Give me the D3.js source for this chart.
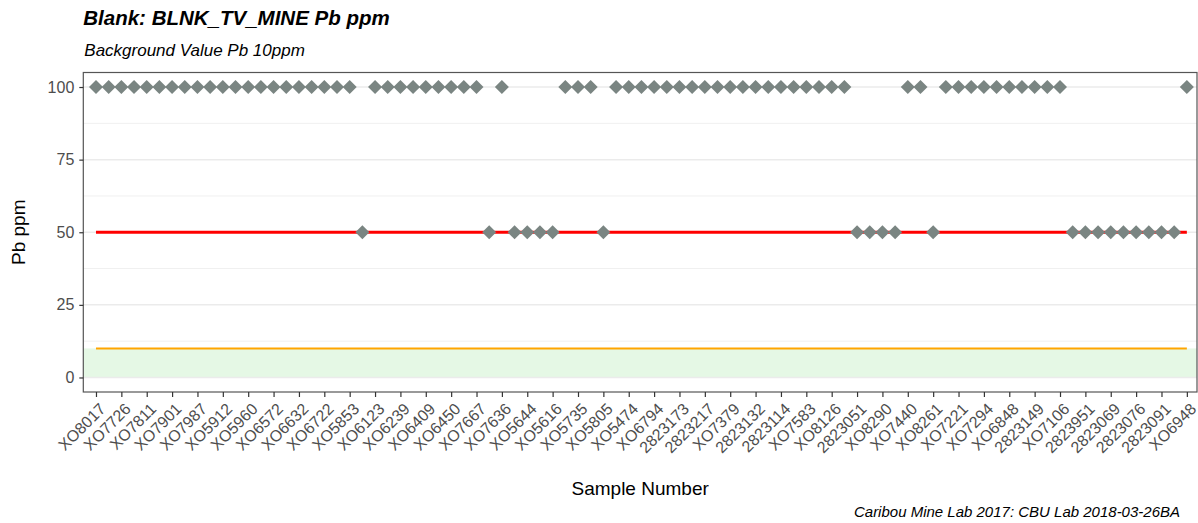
<!DOCTYPE html>
<html>
<head>
  <title>Blank: BLNK_TV_MINE Pb ppm</title>
  <script src="https://d3js.org/d3.v7.min.js"></script>
  <style>
    body { margin: 0; background: #fff; }
    text { font-family: 'Liberation Sans', Arial, sans-serif; }
  </style>
</head>
<body>
  <script>

    // Pb value of each blank, in run order (87 samples)
    var pbValues = [
      100,100,100,100,100,100,100,100,100,100,100,100,100,100,100,100,100,100,100,100,100,
      50,
      100,100,100,100,100,100,100,100,100,
      50,
      100,
      50,50,50,50,
      100,100,100,
      50,
      100,100,100,100,100,100,100,100,100,100,100,100,100,100,100,100,100,100,100,
      50,50,50,50,
      100,100,
      50,
      100,100,100,100,100,100,100,100,100,100,
      50,50,50,50,50,50,50,50,50,
      100
    ];

    // sample numbers shown on the axis (every second sample)
    var tickLabels = ['XO8017','XO7726','XO7811','XO7901','XO7987','XO5912','XO5960','XO6572',
      'XO6632','XO6722','XO5853','XO6123','XO6239','XO6409','XO6450','XO7667','XO7636','XO5644',
      'XO5616','XO5735','XO5805','XO5474','XO6794','2823173','2823217','XO7379','2823132','2823114',
      'XO7583','XO8126','2823051','XO8290','XO7440','XO8261','XO7221','XO7294','XO6848','2823149',
      'XO7106','2823951','2823069','2823076','2823091','XO6948'];

    var yTicks = [0, 25, 50, 75, 100];
    var upperLimit = 50;
    var background = 10;

    var width = 1198,
        height = 523;

    var pLeft = 83.3, pRight = 1197, pTop = 72.5, pBottom = 392;

    var svg = d3.select('body')
      .append('svg')
      .attr('width', width)
      .attr('height', height);

    var x = d3.scaleLinear()
      .domain([0, 87.8])
      .range([pLeft, pRight]);

    var y = d3.scaleLinear()
      .domain([-5, 105])
      .range([pBottom, pTop]);

    // background band
    svg.append('rect')
      .attr('x', pLeft)
      .attr('y', y(background))
      .attr('width', pRight - pLeft)
      .attr('height', y(0) - y(background))
      .attr('fill', '#e5f8e5');

    // grid
    var minor = d3.range(12.5, 100, 25);
    svg.selectAll('.minor')
      .data(minor)
      .enter()
      .append('line')
      .attr('x1', pLeft).attr('x2', pRight)
      .attr('y1', (d) => y(d)).attr('y2', (d) => y(d))
      .attr('stroke', '#f0f0f0')
      .attr('stroke-width', 1);

    svg.selectAll('.major')
      .data(yTicks)
      .enter()
      .append('line')
      .attr('x1', pLeft).attr('x2', pRight)
      .attr('y1', (d) => y(d)).attr('y2', (d) => y(d))
      .attr('stroke', '#ebebeb')
      .attr('stroke-width', 1.5);

    // reference lines
    var n = pbValues.length;
    svg.append('line')
      .attr('x1', x(1)).attr('x2', x(n))
      .attr('y1', y(upperLimit)).attr('y2', y(upperLimit))
      .attr('stroke', '#ff0000')
      .attr('stroke-width', 3);

    svg.append('line')
      .attr('x1', x(1)).attr('x2', x(n))
      .attr('y1', y(background)).attr('y2', y(background))
      .attr('stroke', '#ffa500')
      .attr('stroke-width', 2);

    // points
    svg.selectAll('.pt')
      .data(pbValues)
      .enter()
      .append('path')
      .attr('d', d3.symbol(d3.symbolSquare2, 125))
      .attr('transform', (d, i) => 'translate(' + x(i + 1) + ',' + y(d) + ') rotate(45)')
      .attr('fill', '#7a8582');

    // panel border
    svg.append('rect')
      .attr('x', pLeft).attr('y', pTop)
      .attr('width', pRight - pLeft).attr('height', pBottom - pTop)
      .attr('fill', 'none')
      .attr('stroke', '#555')
      .attr('stroke-width', 1.2);

    // y axis
    var yAxis = svg.append('g')
      .attr('transform', 'translate(' + pLeft + ',0)')
      .call(d3.axisLeft(y).tickValues(yTicks).tickSize(4).tickPadding(5));
    yAxis.select('.domain').remove();
    yAxis.selectAll('line').attr('stroke', '#333').attr('stroke-width', 1.2);
    yAxis.selectAll('text')
      .attr('fill', '#4d4d4d')
      .style('font-size', '16px');

    // x axis
    var xAxis = svg.append('g')
      .attr('transform', 'translate(0,' + pBottom + ')')
      .call(d3.axisBottom(x)
        .tickValues(tickLabels.map((d, i) => 2 * i + 1))
        .tickFormat((d) => tickLabels[(d - 1) / 2])
        .tickSize(5));
    xAxis.select('.domain').remove();
    xAxis.selectAll('line').attr('stroke', '#333').attr('stroke-width', 1.2);
    xAxis.selectAll('text')
      .attr('fill', '#4d4d4d')
      .style('font-size', '16px')
      .attr('text-anchor', 'end')
      .attr('dy', null)
      .attr('y', 0)
      .attr('transform', 'translate(10,18) rotate(-45)');

    // titles
    svg.append('text')
      .attr('x', pLeft).attr('y', 25)
      .style('font-size', '20.5px')
      .style('font-weight', 'bold')
      .style('font-style', 'italic')
      .text('Blank: BLNK_TV_MINE Pb ppm');

    svg.append('text')
      .attr('x', pLeft + 1).attr('y', 56)
      .style('font-size', '17px')
      .style('font-style', 'italic')
      .text('Background Value Pb 10ppm');

    svg.append('text')
      .attr('transform', 'translate(25,' + ((pTop + pBottom) / 2) + ') rotate(-90)')
      .attr('text-anchor', 'middle')
      .style('font-size', '19px')
      .text('Pb ppm');

    svg.append('text')
      .attr('x', (pLeft + pRight) / 2).attr('y', 495)
      .attr('text-anchor', 'middle')
      .style('font-size', '19px')
      .text('Sample Number');

    svg.append('text')
      .attr('x', 1180).attr('y', 517)
      .attr('text-anchor', 'end')
      .style('font-size', '15px')
      .style('font-style', 'italic')
      .text('Caribou Mine Lab 2017: CBU Lab 2018-03-26BA');

  </script>
</body>
</html>
